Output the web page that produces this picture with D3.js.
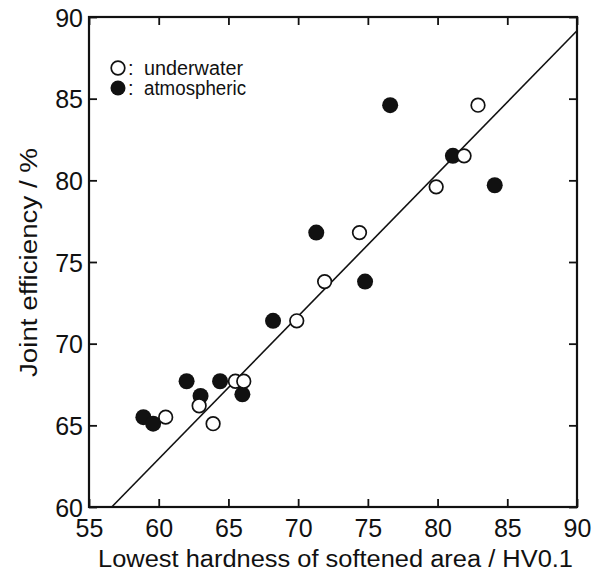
<!DOCTYPE html>
<html>
<head>
<meta charset="utf-8">
<script src="https://cdn.jsdelivr.net/npm/d3@7"></script>
<style>
  html, body { margin: 0; padding: 0; background: #fff; }
  svg { display: block; }
  text { font-family: "Liberation Sans", Arial, Helvetica, sans-serif; fill: #111; }
</style>
</head>
<body>
<script>
// ---- data ----
const xTicks = [55, 60, 65, 70, 75, 80, 85, 90];
const yTicks = [60, 65, 70, 75, 80, 85, 90];
const underwaterX = [82.9, 81.9, 79.9, 74.4, 71.9, 69.9, 65.5, 66.1, 62.9, 63.9, 60.5];
const underwaterY = [84.6, 81.5, 79.6, 76.8, 73.8, 71.4, 67.7, 67.7, 66.2, 65.1, 65.5];
const atmosphericX = [76.6, 81.1, 84.1, 71.3, 74.8, 68.2, 62.0, 64.4, 66.0, 63.0, 58.9, 59.6];
const atmosphericY = [84.6, 81.5, 79.7, 76.8, 73.8, 71.4, 67.7, 67.7, 66.9, 66.8, 65.5, 65.1];
const fitX = [56.63, 90];
const fitY = [60, 89.16];
const xTitle = "Lowest hardness of softened area / HV0.1";
const yTitle = "Joint efficiency / %";
const legendLabels = ["underwater", "atmospheric"];

// ---- layout ----
const W = 594, H = 577;
const m = { left: 89, top: 17, right: 577, bottom: 507 };

const svg = d3.select("body").append("svg").attr("width", W).attr("height", H);

const x = d3.scaleLinear().domain([55, 90]).range([m.left, m.right]);
const y = d3.scaleLinear().domain([60, 90]).range([m.bottom, m.top]);

const tickLen = 8;
// inward ticks on all four sides
const axB = d3.axisBottom(x).tickValues(xTicks).tickSize(-tickLen).tickFormat(d3.format("d"));
const axT = d3.axisTop(x).tickValues(xTicks).tickSize(-tickLen).tickFormat("");
const axL = d3.axisLeft(y).tickValues(yTicks).tickSize(-tickLen).tickFormat(d3.format("d"));
const axR = d3.axisRight(y).tickValues(yTicks).tickSize(-tickLen).tickFormat("");

function styleAxis(g) {
  g.select(".domain").remove();
  g.selectAll(".tick line").attr("stroke", "#111").attr("stroke-width", 1.8);
  g.selectAll(".tick text").style("font-size", "25px").attr("fill", "#111");
}

const gB = svg.append("g").attr("transform", `translate(0,${m.bottom})`).call(axB).call(styleAxis);
gB.selectAll(".tick text").attr("dy", null).attr("y", 30);
svg.append("g").attr("transform", `translate(0,${m.top})`).call(axT).call(styleAxis);
const gL = svg.append("g").attr("transform", `translate(${m.left},0)`).call(axL).call(styleAxis);
gL.selectAll(".tick text").attr("x", -6).attr("dy", "0.36em");
svg.append("g").attr("transform", `translate(${m.right},0)`).call(axR).call(styleAxis);

// frame
svg.append("rect")
  .attr("x", m.left).attr("y", m.top)
  .attr("width", m.right - m.left).attr("height", m.bottom - m.top)
  .attr("fill", "none").attr("stroke", "#111").attr("stroke-width", 2.2);

// regression line
svg.append("line")
  .attr("x1", x(fitX[0])).attr("y1", y(fitY[0]))
  .attr("x2", x(fitX[1])).attr("y2", y(fitY[1]))
  .attr("stroke", "#111").attr("stroke-width", 1.6);

// points
const atm = atmosphericX.map((v, i) => ({ x: v, y: atmosphericY[i] }));
const und = underwaterX.map((v, i) => ({ x: v, y: underwaterY[i] }));

svg.append("g").selectAll("circle").data(atm).join("circle")
  .attr("cx", d => x(d.x)).attr("cy", d => y(d.y)).attr("r", 8)
  .attr("fill", "#111");

svg.append("g").selectAll("circle").data(und).join("circle")
  .attr("cx", d => x(d.x)).attr("cy", d => y(d.y)).attr("r", 6.8)
  .attr("fill", "#fff").attr("stroke", "#111").attr("stroke-width", 1.7);

// legend
const lg = svg.append("g");
lg.append("circle").attr("cx", 118).attr("cy", 68).attr("r", 6.8)
  .attr("fill", "#fff").attr("stroke", "#111").attr("stroke-width", 1.7);
lg.append("circle").attr("cx", 118).attr("cy", 88).attr("r", 7.5).attr("fill", "#111");
[75, 95].forEach((yy, i) => {
  lg.append("text").attr("x", 128).attr("y", yy).style("font-size", "20px").text(":");
  lg.append("text").attr("x", 144).attr("y", yy).style("font-size", "20px")
    .attr("textLength", i === 0 ? 99 : 102).attr("lengthAdjust", "spacingAndGlyphs")
    .text(legendLabels[i]);
});

// axis titles
svg.append("text")
  .attr("x", 98).attr("y", 567)
  .style("font-size", "23px")
  .attr("textLength", 475).attr("lengthAdjust", "spacingAndGlyphs")
  .text(xTitle);

svg.append("text")
  .attr("transform", "translate(37,377) rotate(-90)")
  .style("font-size", "23px")
  .attr("textLength", 229).attr("lengthAdjust", "spacingAndGlyphs")
  .text(yTitle);
</script>
</body>
</html>
